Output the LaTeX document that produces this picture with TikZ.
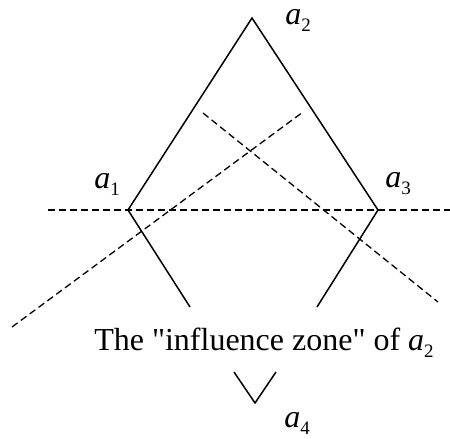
\documentclass[tikz,border=0pt]{standalone}
\usepackage{fontspec}
\setmainfont{Liberation Serif}
\usepackage{tikz}
\usetikzlibrary{positioning, calc}

\newcommand{\avar}[1]{\textit{a}\raisebox{-0.22em}{\fontsize{19}{19}\selectfont #1}}

\begin{document}
\begin{tikzpicture}[
        x=1pt, y=-1pt,
        % solid and dashed strokes
        edge/.style={draw, line width=1.5pt},
        guide/.style={draw, line width=1.3pt, dash pattern=on 7pt off 4pt},
        lbl/.style={font=\fontsize{32}{36}\selectfont, inner sep=0pt}
    ]
    \useasboundingbox (0,0) rectangle (450,439);

    % ==========================================
    % VERTICES
    % ==========================================
    \coordinate (a1) at (128,210);
    \coordinate (a2) at (252,18);
    \coordinate (a3) at (378,210);
    \coordinate (l_end) at (190,307);
    \coordinate (r_end) at (317,307);

    % Labels
    \node[lbl] (la1) at (107,184) {\avar{1}};
    \node[lbl] (la2) at (298,20) {\avar{2}};
    \node[lbl] (la3) at (398,184) {\avar{3}};

    % ==========================================
    % DASHED LINES
    % ==========================================
    \coordinate (h_left) at (48,210);
    \coordinate (h_right) at (450,210);
    \coordinate (d1_start) at (12,327);
    \coordinate (d1_end) at (303,112);
    \coordinate (d2_start) at (203,113);
    \coordinate (d2_end) at (438,302);

    \draw[guide] (h_left) -- (h_right);
    \draw[guide] (d1_start) -- (d1_end);
    \draw[guide] (d2_start) -- (d2_end);

    % ==========================================
    % SOLID LINES
    % ==========================================
    \draw[edge] (l_end) -- (a1) -- (a2) -- (a3) -- (r_end);

    % Influence zone text
    \node[lbl, anchor=base] (zone) at (264,350)
        {The \textquotedbl influence zone\textquotedbl{} of \avar{2}};

    % ==========================================
    % VERTEX a4
    % ==========================================
    \coordinate (a4) at (255,403);
    \coordinate (v_left) at (234,372);
    \coordinate (v_right) at (276,372);
    \draw[edge] (v_left) -- (a4) -- (v_right);
    \node[lbl] (la4) at (297,423) {\avar{4}};

\end{tikzpicture}
\end{document}
